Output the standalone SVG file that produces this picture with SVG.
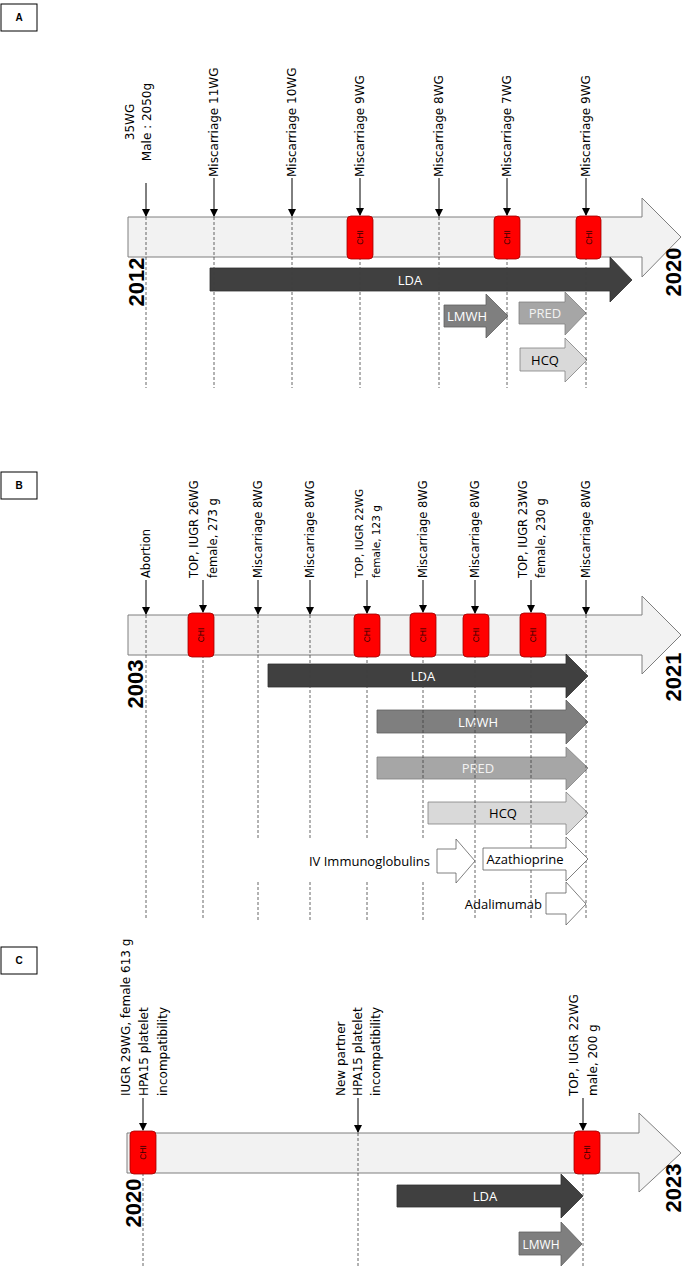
<svg xmlns="http://www.w3.org/2000/svg" width="685" height="1267" viewBox="0 0 685 1267">
<style>
.lbl{font-family:"DejaVu Sans",sans-serif;font-size:12px;fill:#000}
.lb{font-family:"DejaVu Sans",sans-serif;font-size:11.5px;fill:#000}
.ls{font-family:"DejaVu Sans",sans-serif;font-size:10.5px;fill:#000}
.yr{font-family:"Liberation Sans",sans-serif;font-size:22px;font-weight:bold;fill:#000}
.pn{font-family:"Liberation Sans",sans-serif;font-size:10px;font-weight:bold;text-anchor:middle}
.box{fill:#fff;stroke:#000;stroke-width:1}
.bar{fill:#f2f2f2;stroke:#7f7f7f;stroke-width:1}
.dash{stroke:#404040;stroke-width:0.8;stroke-dasharray:3,2;fill:none}
.ev{stroke:#000;stroke-width:1;marker-end:url(#ah)}
.chi{fill:#ff0000;stroke:#a00000;stroke-width:0.8}
.chit{font-family:"Liberation Sans",sans-serif;font-size:8.5px;fill:#300;text-anchor:middle}
.t1{fill:#404040;stroke:#303030;stroke-width:0.8}
.t2{fill:#7f7f7f;stroke:#606060;stroke-width:0.8}
.t3{fill:#a6a6a6;stroke:#808080;stroke-width:0.8}
.t4{fill:#d9d9d9;stroke:#808080;stroke-width:0.8}
.t5{fill:#fff;stroke:#606060;stroke-width:0.8}
.tw{font-family:"Open Sans",sans-serif;font-size:13px;fill:#fff;text-anchor:middle}
.tp{font-family:"Open Sans",sans-serif;font-size:13px;fill:#f2f2f2;text-anchor:middle}
.tb{font-family:"Open Sans",sans-serif;font-size:13px;fill:#000;text-anchor:middle}
</style>
<defs>
<marker id="ah" markerWidth="8" markerHeight="8" refX="7" refY="4" orient="auto" markerUnits="userSpaceOnUse">
<path d="M0,0 L8,4 L0,8 z" fill="#000"/>
</marker>
</defs>

<!-- Panel labels -->
<g id="panelA"><rect class="box" x="1" y="4" width="36" height="27"/><text class="pn" x="19" y="21">A</text></g>
<g id="panelB"><rect class="box" x="1" y="472" width="36" height="27"/><text class="pn" x="19" y="489">B</text></g>
<g id="panelC"><rect class="box" x="1" y="947" width="36" height="27"/><text class="pn" x="19" y="964">C</text></g>

<!-- ===== Panel A ===== -->
<g id="A-timeline"><polygon class="bar" points="128,217 642,217 642,198 681,237 642,277 642,257 128,257"/></g>
<g id="A-LDA"><polygon class="t1" points="210,268 610,268 610,257 632,280 610,302 610,291 210,291"/><text class="tw" x="410" y="285">LDA</text></g>
<g id="A-LMWH"><polygon class="t2" points="444,305 486,305 486,294 508,316 486,338 486,327 444,327"/><text class="tw" x="467" y="321">LMWH</text></g>
<g id="A-PRED"><polygon class="t3" points="519,302 565,302 565,292 586,313 565,335 565,324 519,324"/><text class="tp" x="545" y="318">PRED</text></g>
<g id="A-HCQ"><polygon class="t4" points="520,348 565,348 565,338 587,360 565,382 565,371 520,371"/><text class="tb" x="545" y="365">HCQ</text></g>
<g id="A-connectors">
<path class="dash" d="M146,217V388 M214,217V388 M292,217V388 M360,217V388 M439,217V388 M507,217V388 M586,217V388"/>
<line class="ev" x1="146" y1="183" x2="146" y2="216"/>
<line class="ev" x1="214" y1="178" x2="214" y2="216"/>
<line class="ev" x1="292" y1="178" x2="292" y2="216"/>
<line class="ev" x1="360" y1="178" x2="360" y2="215"/>
<line class="ev" x1="439" y1="178" x2="439" y2="216"/>
<line class="ev" x1="507" y1="178" x2="507" y2="215"/>
<line class="ev" x1="586" y1="178" x2="586" y2="215"/>
</g>
<g id="A-chi1"><rect class="chi" x="347" y="216" width="26" height="43" rx="4"/><text class="chit" transform="translate(363,237.5) rotate(-90)">CHI</text></g>
<g id="A-chi2"><rect class="chi" x="494" y="216" width="26" height="43" rx="4"/><text class="chit" transform="translate(510,237.5) rotate(-90)">CHI</text></g>
<g id="A-chi3"><rect class="chi" x="576" y="216" width="25" height="43" rx="4"/><text class="chit" transform="translate(591.5,237.5) rotate(-90)">CHI</text></g>
<g id="A-labels">
<text class="lbl" text-anchor="middle" transform="translate(134,122) rotate(-90)">35WG</text>
<text class="lbl" text-anchor="middle" transform="translate(151,122) rotate(-90)">Male : 2050g</text>
<text class="lbl" transform="translate(218,177) rotate(-90)">Miscarriage 11WG</text>
<text class="lbl" transform="translate(296,177) rotate(-90)">Miscarriage 10WG</text>
<text class="lbl" transform="translate(364,177) rotate(-90)">Miscarriage 9WG</text>
<text class="lbl" transform="translate(443,177) rotate(-90)">Miscarriage 8WG</text>
<text class="lbl" transform="translate(511,177) rotate(-90)">Miscarriage 7WG</text>
<text class="lbl" transform="translate(590,177) rotate(-90)">Miscarriage 9WG</text>
</g>
<text class="yr" text-anchor="middle" transform="translate(144,282) rotate(-90)">2012</text>
<text class="yr" text-anchor="middle" transform="translate(681,272) rotate(-90)">2020</text>

<!-- ===== Panel B ===== -->
<g id="B-timeline"><polygon class="bar" points="128,615 642,615 642,596 681,635 642,674 642,655 128,655"/></g>
<g id="B-LDA"><polygon class="t1" points="268,664 566,664 566,654 588,676 566,698 566,687 268,687"/><text class="tw" x="423" y="681">LDA</text></g>
<g id="B-LMWH"><polygon class="t2" points="377,710 566,710 566,700 588,722 566,744 566,733 377,733"/><text class="tw" x="478" y="727">LMWH</text></g>
<g id="B-PRED"><polygon class="t3" points="377,757 566,757 566,747 588,768 566,790 566,779 377,779"/><text class="tp" x="478" y="773">PRED</text></g>
<g id="B-HCQ"><polygon class="t4" points="428,802 566,802 566,792 588,813 566,835 566,824 428,824"/><text class="tb" x="503" y="818">HCQ</text></g>
<g id="B-connectors">
<path class="dash" d="M146,615V920 M203,615V920 M258,615V840 M258,882V920 M310,615V840 M310,882V920 M367,615V840 M367,882V920 M423,615V840 M423,882V920 M475,615V920 M531,615V920 M586,615V920"/>
<line class="ev" x1="146" y1="580" x2="146" y2="614"/>
<line class="ev" x1="203" y1="580" x2="203" y2="612"/>
<line class="ev" x1="258" y1="580" x2="258" y2="614"/>
<line class="ev" x1="310" y1="580" x2="310" y2="614"/>
<line class="ev" x1="367" y1="580" x2="367" y2="613"/>
<line class="ev" x1="423" y1="580" x2="423" y2="612"/>
<line class="ev" x1="475" y1="580" x2="475" y2="613"/>
<line class="ev" x1="531" y1="580" x2="531" y2="612"/>
<line class="ev" x1="586" y1="580" x2="586" y2="614"/>
</g>
<g id="B-IVIG"><polygon class="t5" points="437,849 456,849 456,839 475,861 456,883 456,873 437,873"/><text class="tb" style="text-anchor:end" x="430" y="866">IV Immunoglobulins</text></g>
<g id="B-AZA"><polygon class="t5" points="483,848 566,848 566,837 588,859 566,881 566,870 483,870"/><text class="tb" x="525" y="864">Azathioprine</text></g>
<g id="B-ADA"><polygon class="t5" points="546,893 566,893 566,882 586,904 566,925 566,914 546,914"/><text class="tb" style="text-anchor:end" x="542" y="909">Adalimumab</text></g>
<g id="B-chi1"><rect class="chi" x="188" y="613" width="26" height="44" rx="4"/><text class="chit" transform="translate(204,635) rotate(-90)">CHI</text></g>
<g id="B-chi2"><rect class="chi" x="354" y="614" width="26" height="43" rx="4"/><text class="chit" transform="translate(370,635) rotate(-90)">CHI</text></g>
<g id="B-chi3"><rect class="chi" x="410" y="613" width="26" height="44" rx="4"/><text class="chit" transform="translate(426,635) rotate(-90)">CHI</text></g>
<g id="B-chi4"><rect class="chi" x="463" y="614" width="26" height="43" rx="4"/><text class="chit" transform="translate(479,635) rotate(-90)">CHI</text></g>
<g id="B-chi5"><rect class="chi" x="520" y="613" width="26" height="44" rx="4"/><text class="chit" transform="translate(536,635) rotate(-90)">CHI</text></g>
<g id="B-labels">
<text class="lb" transform="translate(150,578) rotate(-90)">Abortion</text>
<text class="lb" transform="translate(198,578) rotate(-90)">TOP, IUGR 26WG</text>
<text class="lb" transform="translate(217,578) rotate(-90)">female, 273 g</text>
<text class="lb" transform="translate(262,578) rotate(-90)">Miscarriage 8WG</text>
<text class="lb" transform="translate(314,578) rotate(-90)">Miscarriage 8WG</text>
<text class="ls" transform="translate(363,578) rotate(-90)">TOP, IUGR 22WG</text>
<text class="ls" transform="translate(380,578) rotate(-90)">female, 123 g</text>
<text class="lb" transform="translate(427,578) rotate(-90)">Miscarriage 8WG</text>
<text class="lb" transform="translate(479,578) rotate(-90)">Miscarriage 8WG</text>
<text class="lb" transform="translate(527,578) rotate(-90)">TOP, IUGR 23WG</text>
<text class="lb" transform="translate(545,578) rotate(-90)">female, 230 g</text>
<text class="lb" transform="translate(590,578) rotate(-90)">Miscarriage 8WG</text>
</g>
<text class="yr" text-anchor="middle" transform="translate(143,684) rotate(-90)">2003</text>
<text class="yr" text-anchor="middle" transform="translate(681,677) rotate(-90)">2021</text>

<!-- ===== Panel C ===== -->
<g id="C-timeline"><polygon class="bar" points="127,1133 639,1133 639,1113 681,1153 639,1192 639,1173 127,1173"/></g>
<g id="C-LDA"><polygon class="t1" points="397,1185 561,1185 561,1174 583,1196 561,1218 561,1207 397,1207"/><text class="tw" x="485" y="1201">LDA</text></g>
<g id="C-LMWH"><polygon class="t2" points="519,1232 561,1232 561,1222 582,1244 561,1266 561,1255 519,1255"/><text class="tw" x="541" y="1249" style="font-size:12px">LMWH</text></g>
<g id="C-connectors">
<path class="dash" d="M143,1133V1267 M358,1133V1267 M583,1133V1267"/>
<line class="ev" x1="143" y1="1098" x2="143" y2="1130"/>
<line class="ev" x1="358" y1="1098" x2="358" y2="1132"/>
<line class="ev" x1="583" y1="1098" x2="583" y2="1130"/>
</g>
<g id="C-chi1"><rect class="chi" x="130" y="1131" width="26" height="43" rx="4"/><text class="chit" transform="translate(146,1152.5) rotate(-90)">CHI</text></g>
<g id="C-chi2"><rect class="chi" x="574" y="1131" width="26" height="43" rx="4"/><text class="chit" transform="translate(590,1152.5) rotate(-90)">CHI</text></g>
<g id="C-labels">
<text class="lbl" transform="translate(130,1096) rotate(-90)">IUGR 29WG, female 613 g</text>
<text class="lbl" transform="translate(148,1096) rotate(-90)">HPA15 platelet</text>
<text class="lbl" transform="translate(167,1096) rotate(-90)">incompatibility</text>
<text class="lbl" transform="translate(345,1096) rotate(-90)">New partner</text>
<text class="lbl" transform="translate(362,1096) rotate(-90)">HPA15 platelet</text>
<text class="lbl" transform="translate(380,1096) rotate(-90)">incompatibility</text>
<text class="lbl" transform="translate(578,1096) rotate(-90)">TOP, IUGR 22WG</text>
<text class="lbl" transform="translate(597,1096) rotate(-90)">male, 200 g</text>
</g>
<text class="yr" text-anchor="middle" transform="translate(141,1203) rotate(-90)">2020</text>
<text class="yr" text-anchor="middle" transform="translate(681,1188) rotate(-90)">2023</text>
</svg>
